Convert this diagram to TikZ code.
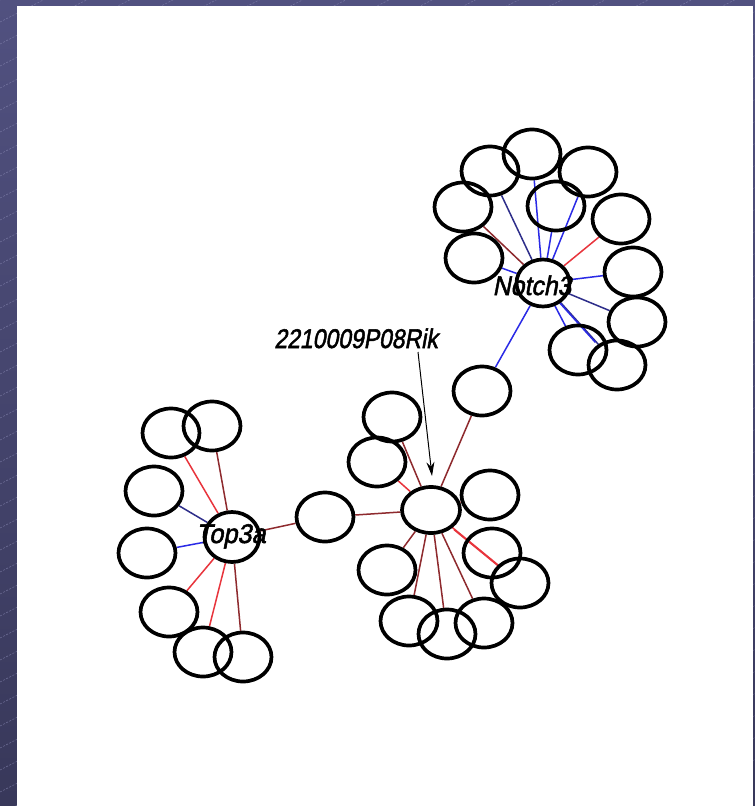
\documentclass[tikz,border=0pt]{standalone}
\usepackage{fontspec}
\setmainfont{Liberation Sans}
\newfontfamily\lblfont{Liberation Sans}[FakeSlant=0.21,FakeBold=2]
\usetikzlibrary{shapes.geometric,arrows.meta}
\pgfdeclarelayer{bg}
\pgfdeclarelayer{edges}
\pgfsetlayers{bg,edges,main}
\definecolor{bgtop}{HTML}{515180}
\definecolor{bgbot}{HTML}{38385A}
\definecolor{stripe}{HTML}{8A8AB4}
\definecolor{ered}{HTML}{E8343C}
\definecolor{ebrown}{HTML}{8E2A2E}
\definecolor{eblue}{HTML}{2A2AE6}
\definecolor{enavy}{HTML}{2E2E8A}
\tikzset{
  gnode/.style={ellipse,draw=black,line width=3.7pt,minimum width=57pt,minimum height=49pt,inner sep=0pt},
  hubnode/.style={gnode,minimum width=55pt,minimum height=48pt},
  lbl/.style={font=\lblfont\fontsize{27}{30}\selectfont,inner sep=0pt,anchor=base},
  er/.style={draw=ered,line width=1.5pt},
  eb/.style={draw=ebrown,line width=1.5pt},
  eu/.style={draw=eblue,line width=1.5pt},
  en/.style={draw=enavy,line width=1.5pt},
}
\begin{document}
\begin{tikzpicture}[x=1pt,y=-1pt]
\useasboundingbox (0,0) rectangle (755,806);
\begin{pgfonlayer}{bg}
% background frame
\shade[top color=bgtop,bottom color=bgbot] (0,0) rectangle (755,806);
\begin{scope}
\clip (0,0) rectangle (755,806);
\foreach \i in {0,...,52} {
  \draw[stripe,line width=0.6pt,dash pattern=on 2pt off 1.5pt,opacity=0.6] (0,22*\i) -- ++(760,-387);
}
\end{scope}
\fill[white] (17,6) rectangle (753,806);
\end{pgfonlayer}

% Notch3 cluster
\node[hubnode,minimum width=53pt,minimum height=47pt] (hn) at (543,283) {};
\node[gnode] (n1) at (532,154) {};
\node[gnode] (n2) at (490,171) {};
\node[gnode] (n3) at (588,172) {};
\node[gnode] (n4) at (556,206) {};
\node[gnode] (n5) at (463,207) {};
\node[gnode] (n6) at (621,219) {};
\node[gnode] (n7) at (474,258) {};
\node[gnode] (n8) at (633,272) {};
\node[gnode] (n9) at (637,322) {};
\node[gnode] (n10) at (578,350) {};
\node[gnode] (n11) at (617,365) {};
\node[gnode] (c1) at (482,391) {};

% 2210009P08Rik cluster
\node[hubnode,minimum width=58pt,minimum height=46pt] (hr) at (431,510) {};
\node[gnode] (r2) at (392,417) {};
\node[gnode] (r3) at (377,462) {};
\node[gnode] (c2) at (325,517) {};
\node[gnode] (r5) at (490,495) {};
\node[gnode] (r6) at (387,570) {};
\node[gnode] (r7) at (492,553) {};
\node[gnode] (r8) at (520,583) {};
\node[gnode] (r9) at (409,621) {};
\node[gnode] (r10) at (447,634) {};
\node[gnode] (r11) at (484,623) {};

% Top3a cluster
\node[hubnode,minimum width=55pt,minimum height=50pt] (ht) at (232,537) {};
\node[gnode] (t1) at (171,433) {};
\node[gnode] (t2) at (212,426) {};
\node[gnode] (t3) at (154,491) {};
\node[gnode] (t4) at (147,553) {};
\node[gnode] (t5) at (169,612) {};
\node[gnode] (t6) at (203,652) {};
\node[gnode] (t7) at (243,657) {};

% labels
\node[lbl] (lnotch) at (532,295) {\scalebox{0.92}[1]{Notch3}};
\node[lbl] (ltop) at (231,543) {\scalebox{0.94}[1]{Top3a}};
\node[lbl] (lrik) at (356,348) {\scalebox{0.85}[1]{2210009P08Rik}};
\coordinate (astart) at (418,352);
\coordinate (atip) at (432,476);
\draw[line width=1pt,-{Stealth[length=14pt,width=8pt]}] (astart) -- (atip);

\begin{pgfonlayer}{edges}
% Notch3 edges
\draw[en] (hn) -- (n2);
\draw[eu] (hn) -- (n1);
\draw[eu] (hn) -- (n4);
\draw[eu] (hn) -- (n3);
\draw[eb] (hn) -- (n5);
\draw[eu] (hn) -- (n7);
\draw[er] (hn) -- (n6);
\draw[eu] (hn) -- (n8);
\draw[en] (hn) -- (n9);
\draw[eu] (hn) -- (n10);
\draw[en] (hn) -- (n11);
\draw[eu,transform canvas={shift={(-3pt,2pt)}}] (hn) -- (n11);
\draw[eu] (hn) -- (c1);
% Rik edges
\draw[eb] (hr) -- (c1);
\draw[eb] (hr) -- (r2);
\draw[er] (hr) -- (r3);
\draw[eb] (hr) -- (c2);
\draw[er] (hr) -- (r5);
\draw[eb] (hr) -- (r6);
\draw[er] (hr) -- (r8);
\draw[er,transform canvas={shift={(1.5pt,-2pt)}}] (hr) -- (r8);
\draw[eb] (hr) -- (r9);
\draw[eb] (hr) -- (r10);
\draw[eb] (hr) -- (r11);
% Top3a edges
\draw[eb] (ht) -- (c2);
\draw[er] (ht) -- (t1);
\draw[eb] (ht) -- (t2);
\draw[en] (ht) -- (t3);
\draw[eu] (ht) -- (t4);
\draw[er] (ht) -- (t5);
\draw[er] (ht) -- (t6);
\draw[eb] (ht) -- (t7);
\end{pgfonlayer}
\end{tikzpicture}
\end{document}
